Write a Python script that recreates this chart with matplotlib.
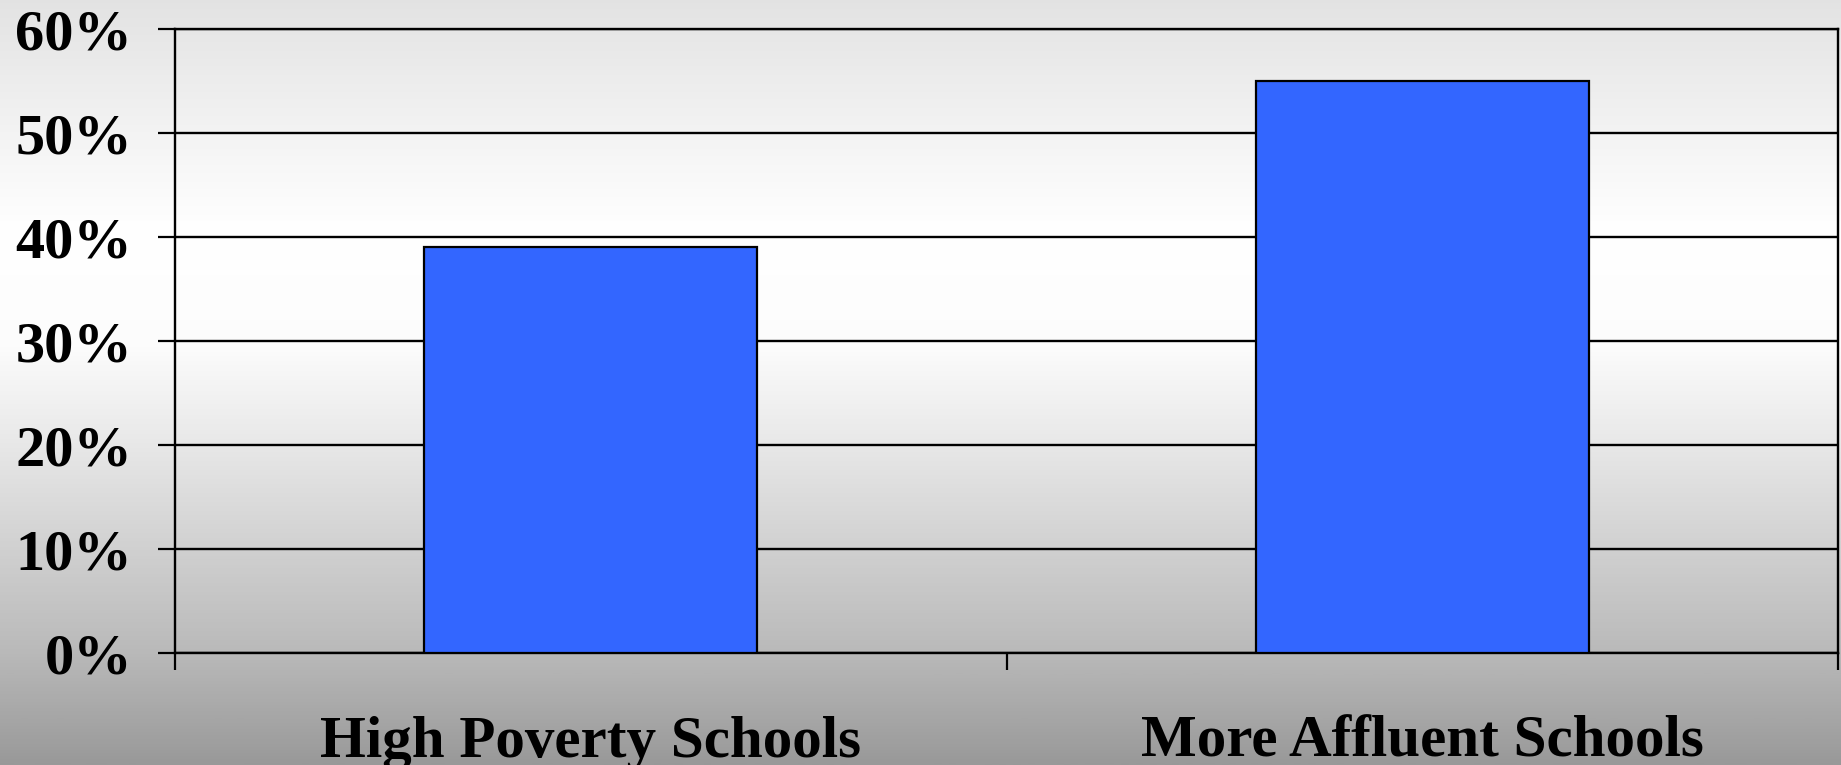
import numpy as np
import matplotlib
matplotlib.use("Agg")
import matplotlib.pyplot as plt
from matplotlib.colors import LinearSegmentedColormap

# data
categories = ["High Poverty Schools", "More Affluent Schools"]
values = [0.39, 0.55]
yticks = [0.0, 0.1, 0.2, 0.3, 0.4, 0.5, 0.6]
ytick_labels = ["0%", "10%", "20%", "30%", "40%", "50%", "60%"]

plt.rcParams['font.family'] = ['Liberation Serif', 'DejaVu Serif']
plt.rcParams['font.weight'] = 'bold'

fig = plt.figure(figsize=(18.41, 7.65), dpi=100)

# slide-style vertical gradient behind everything
bg = fig.add_axes([0, 0, 1, 1], zorder=-10)
grad_cmap = LinearSegmentedColormap.from_list(
    "slide",
    [(0.0, (0.89, 0.89, 0.89)),
     (0.30, (1.0, 1.0, 1.0)),
     (0.45, (0.99, 0.99, 0.99)),
     (0.58, (0.91, 0.91, 0.91)),
     (0.85, (0.73, 0.73, 0.73)),
     (1.0, (0.60, 0.60, 0.60))])
grad = np.linspace(0, 1, 512).reshape(-1, 1)
bg.imshow(grad, aspect="auto", cmap=grad_cmap, extent=[0, 1, 0, 1], origin="upper")
bg.axis("off")

ax = fig.add_axes([175 / 1841, 112 / 765, 1663 / 1841, 624 / 765])
ax.set_facecolor("none")

x = np.arange(len(categories))
ax.bar(x, values, width=0.4, color="#3366FF", edgecolor="black", linewidth=1.6, zorder=3)

ax.set_xlim(-0.5, len(categories) - 0.5)
ax.set_ylim(0, 0.6)

ax.set_yticks(yticks)
ax.set_yticklabels(ytick_labels)
ax.yaxis.grid(True, color="black", linewidth=1.7, zorder=1)
ax.set_axisbelow(True)

# category boundaries get the tick marks, labels sit in the middle
ax.set_xticks(np.arange(-0.5, len(categories), 1.0))
ax.set_xticklabels([])
ax.set_xticks(x, minor=True)
ax.set_xticklabels(categories, minor=True)

ax.tick_params(axis="y", direction="out", length=12, width=1.6, pad=19, labelsize=42)
ax.tick_params(axis="x", which="major", direction="out", length=12.5, width=1.6)
ax.tick_params(axis="x", which="minor", length=0, pad=45, labelsize=42.5)

for s in ax.spines.values():
    s.set_color("black")
    s.set_linewidth(1.7)

plt.savefig("out.png", dpi=100)
